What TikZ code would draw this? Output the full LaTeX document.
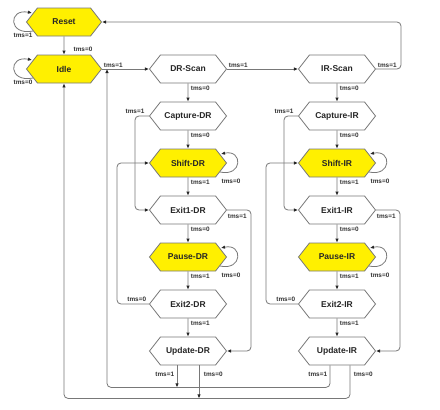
\documentclass[tikz,border=0pt]{standalone}
\usepackage{fontspec}
\setmainfont{Liberation Sans}
\usetikzlibrary{shapes.symbols,arrows.meta,calc}
\definecolor{hexyel}{RGB}{255,240,0}
\definecolor{hexline}{RGB}{120,120,120}
\begin{document}
\begin{tikzpicture}[x=1pt,y=-1pt,
 state/.style={signal, signal to=west and east, signal pointer angle=104, draw=hexline, line width=0.8pt, fill=white, minimum width=77pt, minimum height=28pt, inner sep=0pt, font=\bfseries\fontsize{8.5}{10}\selectfont, text=black!85},
 hot/.style={state, fill=hexyel},
 arr/.style={draw=hexline, line width=0.8pt, -{Latex[length=4pt,width=3.5pt,color=black!85]}, rounded corners=4pt},
 lbl/.style={font=\bfseries\fontsize{6.4}{7}\selectfont, text=black!80, inner sep=0.5pt}]
\useasboundingbox[fill=white] (0,0) rectangle (440,410);

% nodes
\node[hot, minimum width=75pt] (reset) at (64,22) {Reset};
\node[hot, minimum width=75pt] (idle) at (64,69) {Idle};
\node[state] (drscan) at (188,69) {DR-Scan};
\node[state] (irscan) at (337,69) {IR-Scan};
\node[state] (capdr) at (188,116) {Capture-DR};
\node[hot]   (shdr)  at (188,163) {Shift-DR};
\node[state] (e1dr)  at (188,210) {Exit1-DR};
\node[hot]   (padr)  at (188,257) {Pause-DR};
\node[state] (e2dr)  at (188,304) {Exit2-DR};
\node[state] (updr)  at (188,351) {Update-DR};
\node[state] (capir) at (337,116) {Capture-IR};
\node[hot]   (shir)  at (337,163) {Shift-IR};
\node[state] (e1ir)  at (337,210) {Exit1-IR};
\node[hot]   (pair)  at (337,257) {Pause-IR};
\node[state] (e2ir)  at (337,304) {Exit2-IR};
\node[state] (upir)  at (337,351) {Update-IR};
\coordinate (join1) at (107,69);

% self loops on the left
\foreach \n/\v in {reset/1, idle/0}{
  \draw[arr] ($(\n.west)+(7,9)$) .. controls ($(\n.west)+(-18,14)$) and ($(\n.west)+(-18,-14)$) .. ($(\n.west)+(6,-9)$);
  \node[lbl] (loop\n) at ($(\n.west)+(-3,13)$) {tms=\v};
}
% self loops on the right
\foreach \n in {shdr, padr, shir, pair}{
  \draw[arr] ($(\n.east)+(-7,9)$) .. controls ($(\n.east)+(16,14)$) and ($(\n.east)+(16,-14)$) .. ($(\n.east)+(-6,-9)$);
  \node[lbl] (loop\n) at ($(\n.east)+(4,18)$) {tms=0};
}

% top row
\draw[arr] (reset) -- (idle);
\node[lbl] (lr) at (83,49) {tms=0};
\draw[arr] (idle.east) -- (drscan.west) node[lbl, pos=0, anchor=south west, xshift=1pt, yshift=1pt] (li) {tms=1};
\draw[arr] (drscan.east) -- (irscan.west) node[lbl, pos=0, anchor=south west, xshift=1pt, yshift=1pt] (ld) {tms=1};
\draw[arr] (irscan.east) -- ++(25,0) node[lbl, pos=0, anchor=south west, xshift=1pt, yshift=1pt] (lir) {tms=1} |- (reset.east);

% columns
\foreach \s/\c/\sh/\eo/\pa/\et/\up in {drscan/capdr/shdr/e1dr/padr/e2dr/updr, irscan/capir/shir/e1ir/pair/e2ir/upir}{
  \draw[arr] (\s) -- (\c) node[lbl, pos=0.28, anchor=west, xshift=2pt] {tms=0};
  \draw[arr] (\c) -- (\sh) node[lbl, pos=0.28, anchor=west, xshift=2pt] {tms=0};
  \draw[arr] (\sh) -- (\eo) node[lbl, pos=0.28, anchor=west, xshift=2pt] {tms=1};
  \draw[arr] (\eo) -- (\pa) node[lbl, pos=0.28, anchor=west, xshift=2pt] {tms=0};
  \draw[arr] (\pa) -- (\et) node[lbl, pos=0.28, anchor=west, xshift=2pt] {tms=1};
  \draw[arr] (\et) -- (\up) node[lbl, pos=0.28, anchor=west, xshift=2pt] {tms=1};
  \draw[arr] (\c.west) -- ++(-14,0) node[lbl, pos=1, anchor=south, yshift=1.5pt] {tms=1} |- (\eo.west);
  \draw[arr] (\eo.east) -- ++(24,0) node[lbl, pos=0, anchor=north west, yshift=-3pt] {tms=1} |- (\up.east);
  \draw[arr] (\et.west) -- ++(-32,0) node[lbl, pos=0, anchor=south east, xshift=-2pt, yshift=2pt] {tms=0} |- (\sh.west);
}

% update exits
\draw[arr] ($(updr.south)+(-11,0)$) -- ++(0,22) node[lbl, pos=0.4, anchor=east, xshift=-2pt] (lu1) {tms=1};
\draw[arr] ($(updr.south)+(11,0)$) -- ++(0,33) node[lbl, pos=0.26, anchor=west, xshift=4pt] (lu0) {tms=0};
\draw[arr] ($(upir.south)+(-7,0)$) -- ++(0,22) node[lbl, pos=0.4, anchor=east, xshift=-2pt] (lv1) {tms=1} -| (join1);
\draw[arr] ($(upir.south)+(13,0)$) -- ++(0,33) node[lbl, pos=0.26, anchor=west, xshift=3pt] (lv0) {tms=0} -| (idle.south);
\end{tikzpicture}
\end{document}
